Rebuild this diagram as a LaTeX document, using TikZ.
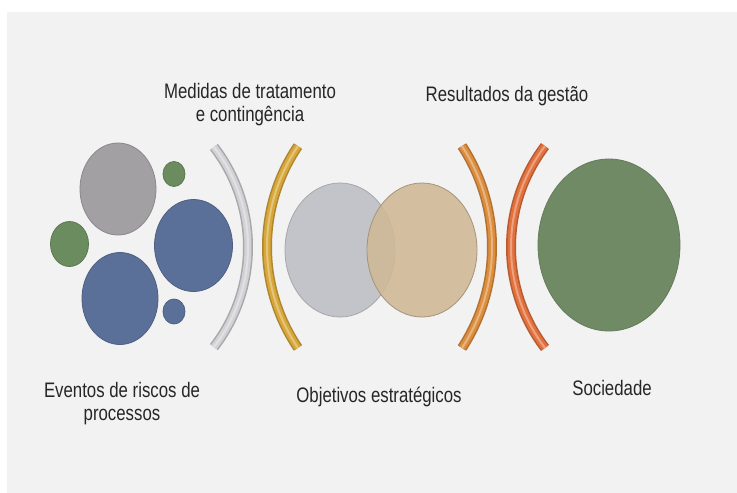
\documentclass[tikz,border=0pt]{standalone}
\usepackage{fontspec}
\setmainfont{Liberation Sans}[FakeStretch=0.8]
\usetikzlibrary{shapes.geometric}
\definecolor{fundo}{HTML}{F2F2F2}
\definecolor{texto}{HTML}{262626}
\definecolor{cinza}{HTML}{A3A0A4}
\definecolor{azul}{HTML}{5B7099}
\definecolor{verde}{HTML}{6B8C5E}
\definecolor{verdesoc}{HTML}{6F8A65}
\definecolor{prata}{HTML}{C3C3CA}
\definecolor{areia}{HTML}{CFB895}
\definecolor{arcocinza}{HTML}{D2D2D6}
\definecolor{ouro}{HTML}{D8A73A}
\definecolor{laranja}{HTML}{DC8D3D}
\definecolor{tijolo}{HTML}{E2713D}
\tikzstyle{bolha} = [ellipse, inner sep=0pt, line width=0.8pt]
\tikzstyle{rotulo} = [text=texto, align=center, inner sep=0pt, font=\fontsize{21}{22.5}\selectfont]
\tikzset{arco/.style = {
    line cap=butt,
  }
}
\newcommand{\arco}[5]{%
  \draw[arco, draw=#1!80!black, line width=10pt] (#2) ++(#4:#3) arc[start angle=#4, end angle=#5, radius=#3];
  \draw[arco, draw=#1, line width=7pt] (#2) ++(#4:#3) arc[start angle=#4, end angle=#5, radius=#3];
  \draw[arco, draw=white, opacity=0.35, line width=2pt] (#2) ++(#4:#3) arc[start angle=#4, end angle=#5, radius=#3];
}

\begin{document}
\begin{tikzpicture}[x=1pt, y=-1pt]
  \useasboundingbox (0,0) rectangle (737,493);
  \fill[white] (0,0) rectangle (737,493);
  \fill[fundo] (7,12) rectangle (737,493);

  % eventos
  \node[bolha, fill=cinza, draw=cinza!85!black, minimum width=76pt, minimum height=92pt] (ev1) at (118,189) {};
  \node[bolha, fill=verde, draw=verde!85!black, minimum width=22pt, minimum height=25pt] (ev2) at (174,174) {};
  \node[bolha, fill=verde, draw=verde!85!black, minimum width=38pt, minimum height=45pt] (ev3) at (69.5,244) {};
  \node[bolha, fill=azul, draw=azul!85!black, minimum width=78pt, minimum height=92pt] (ev4) at (193.5,245.5) {};
  \node[bolha, fill=azul, draw=azul!85!black, minimum width=76pt, minimum height=92pt] (ev5) at (120,298.5) {};
  \node[bolha, fill=azul, draw=azul!85!black, minimum width=22pt, minimum height=25pt] (ev6) at (174,311.5) {};

  % objetivos
  \node[bolha, fill=prata, draw=prata!85!black, minimum width=110pt, minimum height=134pt] (ob1) at (340,250) {};
  \node[bolha, fill=areia, fill opacity=0.88, draw=areia!80!black, minimum width=110pt, minimum height=134pt] (ob2) at (422,250) {};

  % sociedade
  \node[bolha, fill=verdesoc, draw=verdesoc!90!black, minimum width=142pt, minimum height=172pt] (soc) at (609,245) {};

  % parenteses
  \coordinate (c1) at (84,247);
  \coordinate (c2) at (447,247);
  \coordinate (c3) at (307,247);
  \coordinate (c4) at (678,247);
  \arco{arcocinza}{c1}{164}{-37.6}{37.6}
  \arco{ouro}{c2}{180}{214.1}{145.9}
  \arco{laranja}{c3}{185}{-33.1}{33.1}
  \arco{tijolo}{c4}{167}{217.2}{142.8}

  % rotulos
  \node[rotulo, anchor=base] (med) at (250,121) {Medidas de tratamento\\e contingência};
  \node[rotulo, anchor=base] (res) at (507,101) {Resultados da gestão};
  \node[rotulo, anchor=base] (eve) at (122,420) {Eventos de riscos de\\processos};
  \node[rotulo, anchor=base] (obj) at (379,402) {Objetivos estratégicos};
  \node[rotulo, anchor=base] (sol) at (612,395) {Sociedade};
\end{tikzpicture}
\end{document}
